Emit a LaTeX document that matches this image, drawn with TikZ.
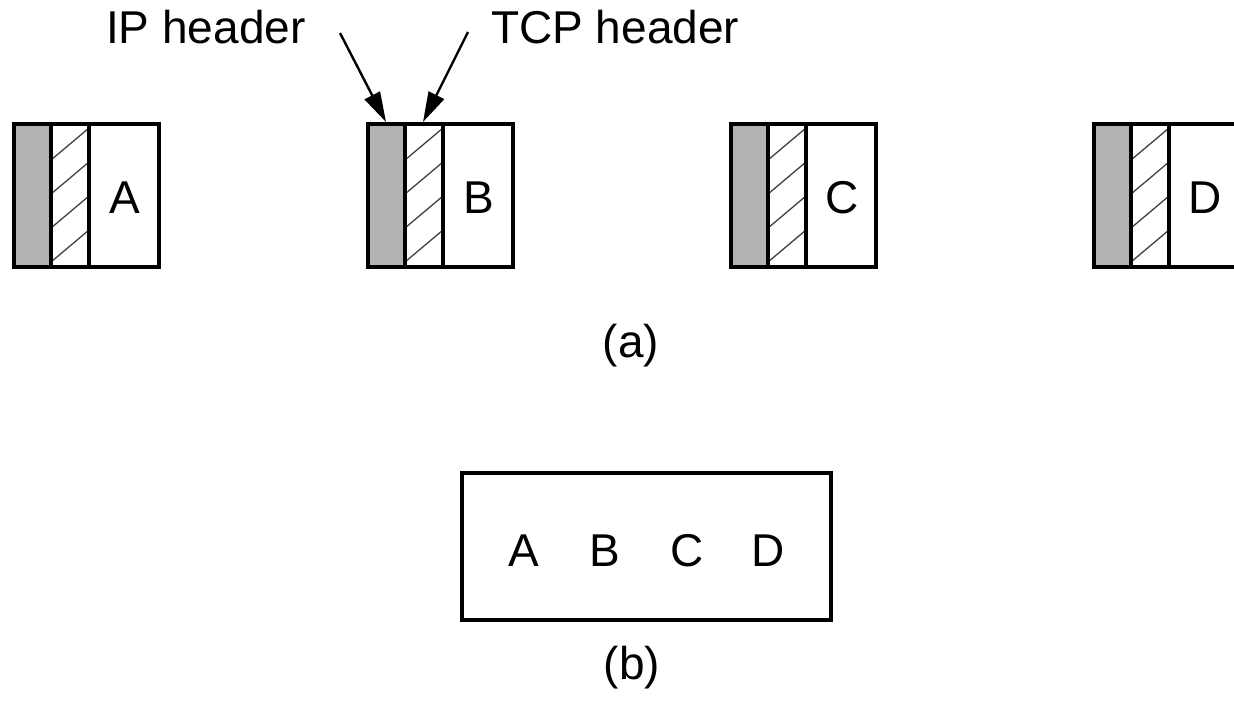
\documentclass[tikz,border=0pt]{standalone}
\usepackage{fontspec}
\setmainfont{Liberation Sans}
\usetikzlibrary{arrows.meta}
\tikzset{
  frame/.style={line width=3.5pt, line join=miter},
  hatchline/.style={line width=1.3pt, draw=black!75},
  ipfill/.style={fill=black!30},
  lbl/.style={font=\fontsize{46}{52}\selectfont, inner sep=0pt},
  callout/.style={line width=2.4pt, -{Triangle[length=30pt,width=17pt]}},
}
\newcommand\mypacket[3]{%
  % #1 left x, #2 name, #3 letter
  \fill[ipfill] (#1,124) rectangle (#1+37,267);
  \begin{scope}
    \clip (#1+37,124) rectangle (#1+75,267);
    \foreach \k in {-1,0,1,2,3,4}
      \draw[hatchline] (#1+37,160+34*\k) -- ++(38,-32);
  \end{scope}
  \draw[frame] (#1,124) rectangle (#1+145,267);
  \draw[frame] (#1+37,124) -- (#1+37,267);
  \draw[frame] (#1+75,124) -- (#1+75,267);
  \coordinate (#2ip) at (#1+19,124);
  \coordinate (#2tcp) at (#1+56,124);
  \node[lbl] (#2) at (#1+111,198) {#3};
}
\begin{document}
\begin{tikzpicture}[x=1pt,y=-1pt]
\useasboundingbox (0,0) rectangle (1234,719);
\fill[white] (0,0) rectangle (1234,719);

\mypacket{14}{pA}{A}
\mypacket{368}{pB}{B}
\mypacket{731}{pC}{C}
\mypacket{1094}{pD}{D}

\node[lbl, anchor=base west] (iphdr) at (106,44) {IP header};
\node[lbl, anchor=base west] (tcphdr) at (491,44) {TCP header};
\coordinate (ipstart) at (340,33);
\coordinate (tcpstart) at (468,32);
\coordinate (iptip) at (386,122);
\coordinate (tcptip) at (423,122);
\draw[callout] (ipstart) -- (iptip);
\draw[callout] (tcpstart) -- (tcptip);

\node[lbl] (capa) at (631,346) {(a)};

\draw[frame] (462,473) rectangle (831,620);
\node[lbl] (bA) at (524,551) {A};
\node[lbl] (bB) at (605,551) {B};
\node[lbl] (bC) at (687,551) {C};
\node[lbl] (bD) at (768,551) {D};

\node[lbl] (capb) at (632,668) {(b)};
\end{tikzpicture}
\end{document}
